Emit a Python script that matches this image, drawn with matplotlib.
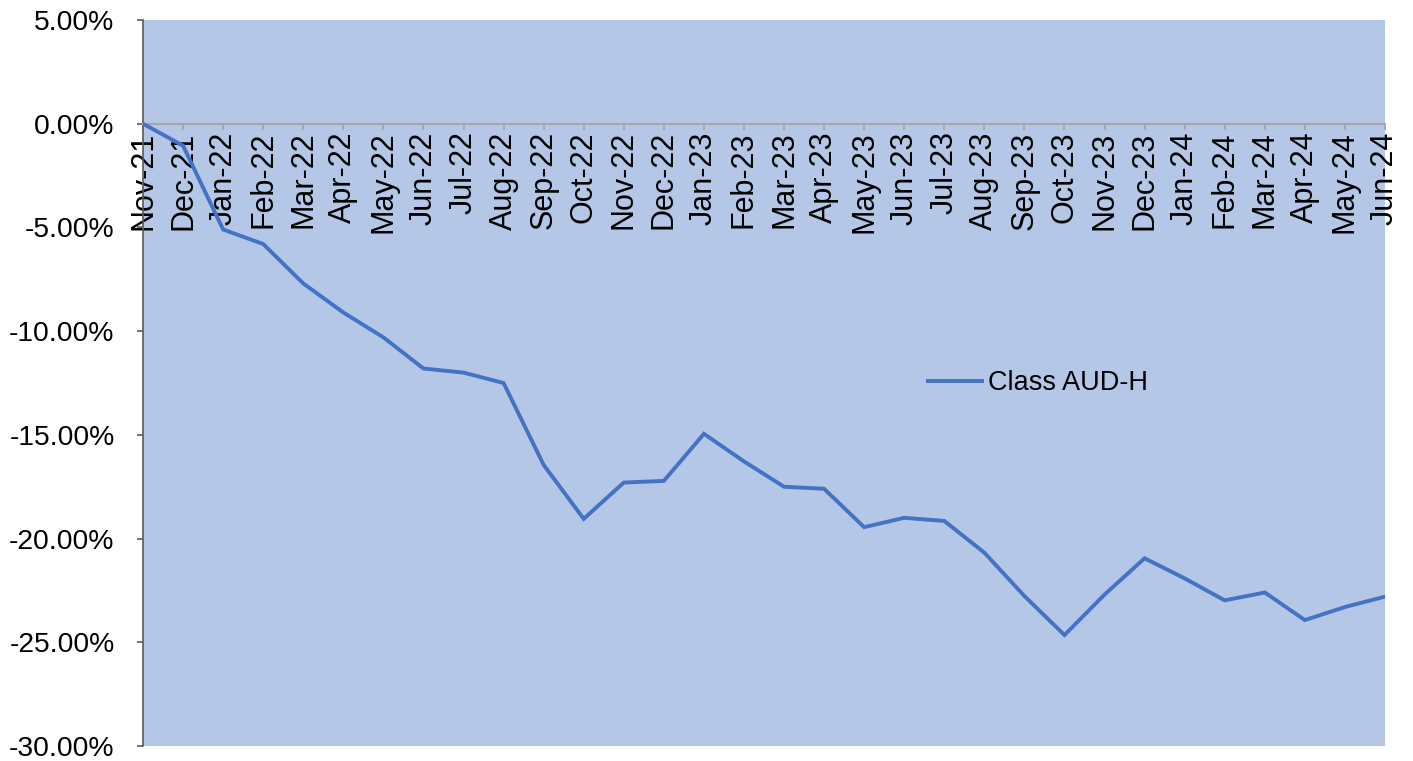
import matplotlib
matplotlib.use("Agg")
import matplotlib.pyplot as plt
from matplotlib.ticker import FuncFormatter
import numpy as np

plt.rcParams["font.family"] = ["Liberation Sans", "DejaVu Sans"]

months = [
    "Nov-21", "Dec-21",
    "Jan-22", "Feb-22", "Mar-22", "Apr-22", "May-22", "Jun-22",
    "Jul-22", "Aug-22", "Sep-22", "Oct-22", "Nov-22", "Dec-22",
    "Jan-23", "Feb-23", "Mar-23", "Apr-23", "May-23", "Jun-23",
    "Jul-23", "Aug-23", "Sep-23", "Oct-23", "Nov-23", "Dec-23",
    "Jan-24", "Feb-24", "Mar-24", "Apr-24", "May-24", "Jun-24",
]
aud_h = [
    0.00, -1.06,
    -5.10, -5.80, -7.70, -9.10, -10.30, -11.80,
    -12.00, -12.50, -16.45, -19.05, -17.30, -17.22,
    -14.95, -16.28, -17.50, -17.60, -19.45, -19.00,
    -19.15, -20.68, -22.77, -24.65, -22.70, -20.95,
    -21.92, -22.98, -22.60, -23.93, -23.30, -22.80,
]
series_name = "Class AUD-H"
y_ticks = [5, 0, -5, -10, -15, -20, -25, -30]

fig = plt.figure(figsize=(14.13, 7.61), dpi=100, facecolor="white")
ax = fig.add_axes([143 / 1413, 1 - 746 / 761, 1242 / 1413, 726 / 761])
ax.set_facecolor("#B4C7E7")

x = np.arange(len(months))
ax.plot(x, aud_h, color="#4472C4", linewidth=2.8, label=series_name,
        solid_joinstyle="miter", zorder=3)

ax.set_xlim(0, len(months) - 1)
ax.set_ylim(-30, 5)
ax.set_yticks(y_ticks)
ax.yaxis.set_major_formatter(FuncFormatter(lambda v, p: f"{v:.2f}%"))

# eje x en el cero
ax.spines["bottom"].set_position(("data", 0))
ax.spines["bottom"].set_color("#A6A6A6")
ax.spines["bottom"].set_linewidth(1.5)
ax.spines["left"].set_color("#595959")
ax.spines["left"].set_linewidth(1.2)
ax.spines["top"].set_visible(False)
ax.spines["right"].set_visible(False)

ax.set_xticks(x)
ax.set_xticklabels(months, rotation=90)
ax.tick_params(axis="x", direction="out", length=4.5, width=1.3,
               color="#A6A6A6", labelsize=22, pad=1)
ax.tick_params(axis="y", direction="out", length=4.5, width=1.2,
               color="#595959", labelsize=20.3, pad=16)

ax.legend(loc="center left", bbox_to_anchor=(0.632, 0.50), frameon=False,
          fontsize=19.5, handlelength=2.0, handletextpad=0.2,
          borderpad=0, borderaxespad=0)

fig.savefig("out.png", dpi=100, facecolor="white")
